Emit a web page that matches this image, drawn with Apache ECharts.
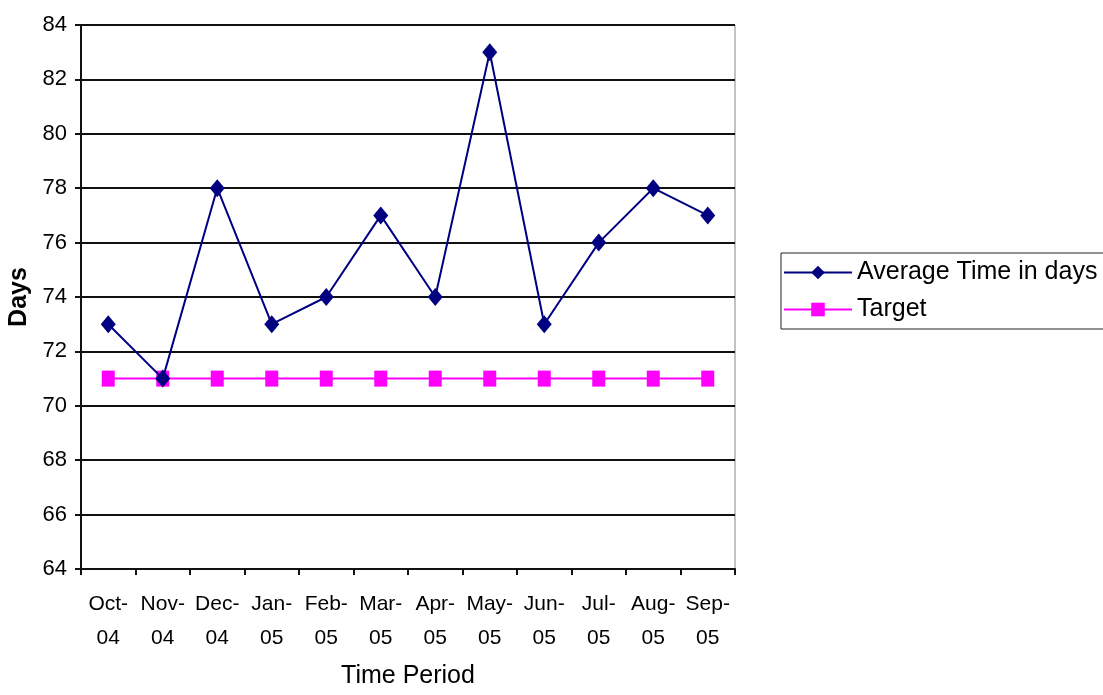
<!DOCTYPE html>
<html>
<head>
<meta charset="utf-8">
<script src="https://cdn.jsdelivr.net/npm/echarts@6/dist/echarts.min.js"></script>
<style>
html,body{margin:0;padding:0;background:#fff;}
#chart{width:1103px;height:695px;}
</style>
</head>
<body>
<div id="chart"></div>
<script>
const months = ['Oct-\n04','Nov-\n04','Dec-\n04','Jan-\n05','Feb-\n05','Mar-\n05','Apr-\n05','May-\n05','Jun-\n05','Jul-\n05','Aug-\n05','Sep-\n05'];
const averageDays = [73, 71, 78, 73, 74, 77, 74, 83, 73, 76, 78, 77];
const targetDays = [71, 71, 71, 71, 71, 71, 71, 71, 71, 71, 71, 71];

const FONT = "'Liberation Sans', Arial, sans-serif";

const chart = echarts.init(document.getElementById('chart'));
chart.setOption({
  backgroundColor: '#fff',
  animation: false,
  grid: {
    left: 81, right: 368, top: 25, bottom: 126,
    outerBoundsMode: 'none', containLabel: false,
    show: true, borderColor: '#888', borderWidth: 1
  },
  legend: {
    orient: 'vertical',
    left: 781, top: 253,
    padding: [7, 9, 7, 2],
    borderColor: '#222', borderWidth: 1,
    itemWidth: 68, itemHeight: 17, itemGap: 12,
    textStyle: { fontFamily: FONT, fontSize: 25, color: '#000' },
    data: ['Average Time in days', 'Target']
  },
  xAxis: {
    type: 'category',
    data: months,
    boundaryGap: true,
    name: 'Time Period',
    nameLocation: 'middle',
    nameGap: 95,
    nameTextStyle: { fontFamily: FONT, fontSize: 25, color: '#000' },
    axisLine: { lineStyle: { color: '#111', width: 2 } },
    axisTick: { show: true, length: 6, lineStyle: { color: '#111', width: 2 } },
    axisLabel: { fontFamily: FONT, fontSize: 21, color: '#000', margin: 18, lineHeight: 34, interval: 0 },
    splitLine: { show: false }
  },
  yAxis: {
    type: 'value',
    min: 64, max: 84, interval: 2,
    name: 'Days',
    nameLocation: 'middle',
    nameGap: 47,
    nameTextStyle: { fontFamily: FONT, fontSize: 25, fontWeight: 'bold', color: '#000' },
    axisLine: { show: true, lineStyle: { color: '#111', width: 2 } },
    axisTick: { show: true, inside: false, length: 6, lineStyle: { color: '#111', width: 2 } },
    axisLabel: { fontFamily: FONT, fontSize: 22, color: '#000', margin: 14 },
    splitLine: { show: true, lineStyle: { color: '#111', width: 2 } }
  },
  series: [
    {
      name: 'Target',
      type: 'line',
      data: targetDays,
      symbol: 'rect',
      symbolSize: [13, 16],
      z: 2,
      lineStyle: { color: '#ff00ff', width: 2 },
      itemStyle: { color: '#ff00ff' }
    },
    {
      name: 'Average Time in days',
      type: 'line',
      data: averageDays,
      symbol: 'diamond',
      symbolSize: [15, 18],
      z: 3,
      lineStyle: { color: '#000080', width: 2 },
      itemStyle: { color: '#000080' }
    }
  ]
});
</script>
</body>
</html>
